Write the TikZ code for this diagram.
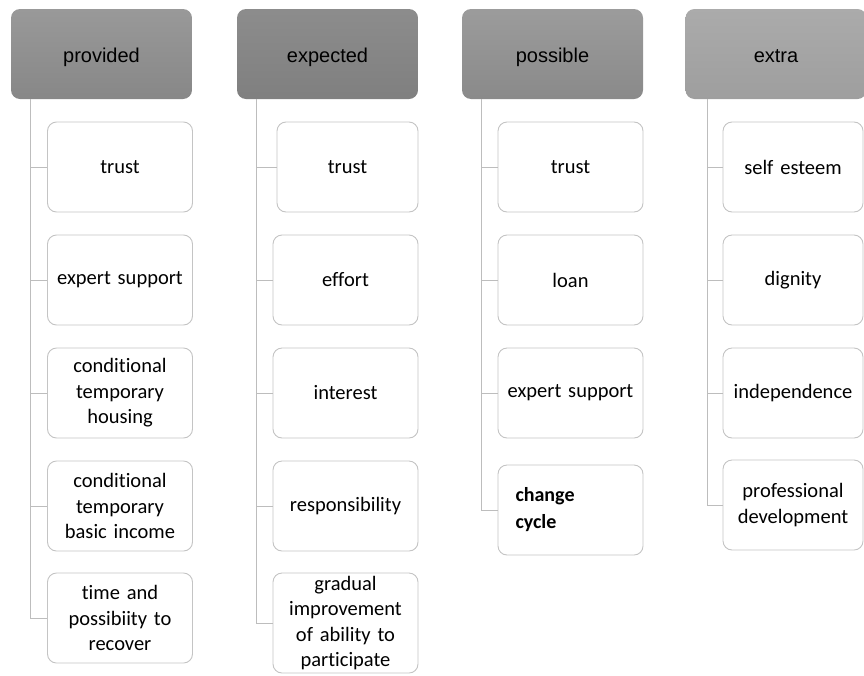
\documentclass[tikz,border=0pt]{standalone}
\usepackage{fontspec}
\setmainfont{Carlito}[Ligatures={NoCommon}]
\newfontfamily\hdfont{Liberation Sans}
\definecolor{lineg}{HTML}{BDBDBD}
\definecolor{boxg}{HTML}{C4C4C4}
\newcommand{\itemfont}{\fontsize{20.5}{25.5}\selectfont\fontdimen2\font=0.226em\fontdimen3\font=0pt\fontdimen4\font=0pt}
\begin{document}
\begin{tikzpicture}[x=1pt,y=-1pt,
  hdr/.style={rounded corners=9pt, minimum width=181pt, minimum height=90pt, inner sep=0pt,
    text height=17pt, text depth=1pt,
    font=\hdfont\fontsize{20}{24}\selectfont, text=black},
  item/.style={draw=boxg, line width=0.9pt, fill=white, rounded corners=9pt, minimum width=145pt,
    minimum height=90pt, inner sep=0pt, align=center, text width=138pt,
    font=\itemfont},
  conn/.style={draw=lineg, line width=1pt}]
\useasboundingbox (0,0) rectangle (864,675);
% headers
\node[hdr, top color=black!40, bottom color=black!47] (h1) at (101.5,54) {provided};
\node[hdr, top color=black!45, bottom color=black!50] (h2) at (327.5,54) {expected};
\node[hdr, top color=black!39, bottom color=black!46] (h3) at (552.5,54) {possible};
\node[hdr, top color=black!33, bottom color=black!38] (h4) at (776,54) {extra};
% column 1
\node[item] (a1) at (120,167) {trust};
\node[item] (a2) at (120,280) {expert support};
\node[item] (a3) at (120,393) {conditional\\temporary\\housing};
\node[item] (a4) at (120,506) {conditional\\temporary\\basic income};
\node[item] (a5) at (120,618) {time and\\possibiity to\\recover};
% column 2
\node[item, minimum width=141pt, text width=134pt] (b1) at (347.5,167) {trust};
\node[item] (b2) at (345.5,280) {effort};
\node[item] (b3) at (345.5,393) {interest};
\node[item] (b4) at (345.5,506) {responsibility};
\node[item, minimum height=100pt] (b5) at (345.5,623) {gradual\\improvement\\of ability to\\participate};
% column 3
\node[item] (c1) at (570.5,167) {trust};
\node[item] (c2) at (570.5,280) {loan};
\node[item] (c3) at (570.5,393) {expert support};
\node[item, align=left, text width=110pt, font={\bfseries\itemfont\fontsize{20}{27}\selectfont\fontdimen2\font=0.226em}] (c4) at (570.5,510) {change\\cycle};
% column 4
\node[item, minimum width=140pt] (d1) at (793,167) {self esteem};
\node[item, minimum width=140pt] (d2) at (793,280) {dignity};
\node[item, minimum width=140pt] (d3) at (793,393) {independence};
\node[item, minimum width=140pt] (d4) at (793,505) {professional\\development};
% connectors
\coordinate (p1) at (30,99);
\coordinate (p2) at (256,99);
\coordinate (p3) at (481,99);
\coordinate (p4) at (707,99);
\foreach \c/\list in {p1/{a1,a2,a3,a4,a5}, p2/{b1,b2,b3,b4,b5}, p3/{c1,c2,c3,c4}, p4/{d1,d2,d3,d4}}{
  \foreach \n in \list {
    \draw[conn] (\c) |- (\n.west);
  }
}
\end{tikzpicture}
\end{document}
